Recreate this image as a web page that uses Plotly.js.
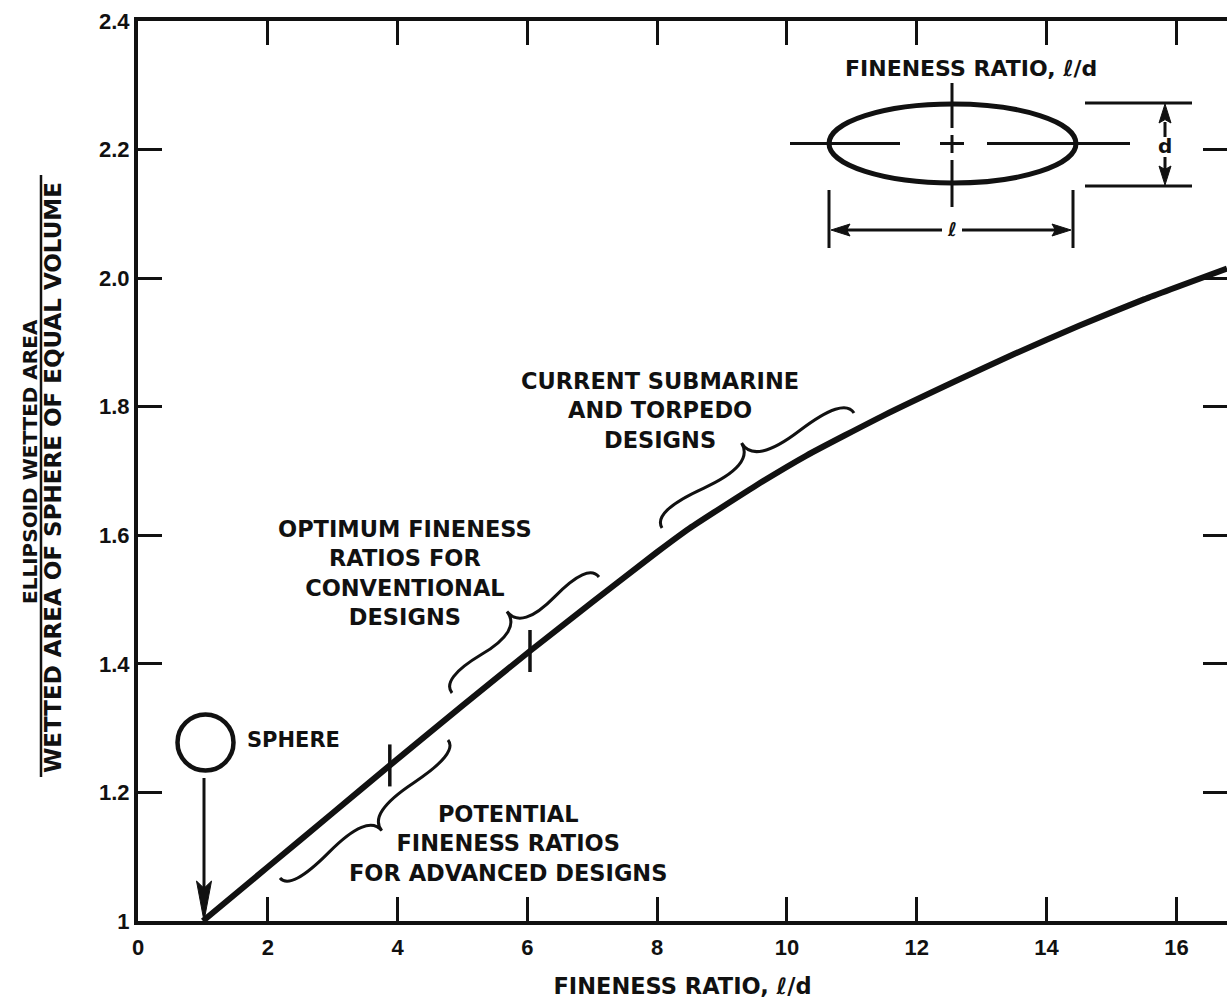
<!DOCTYPE html>
<html>
<head>
<meta charset="utf-8">
<script src="https://cdn.plot.ly/plotly-3.0.1.min.js"></script>
<style>
  html, body { margin: 0; padding: 0; background: #fff; overflow: hidden; }
  #chart { width: 1227px; height: 1001px; }
</style>
</head>
<body>
<div id="chart"></div>
<script>
// Wetted area of a prolate ellipsoid relative to a sphere of equal volume
const fineness  = [1.0, 2.0, 3.0, 3.88, 5.0, 6.04, 7.0, 8.0, 8.5, 9.5, 10.3, 11.5, 12.6, 13.5, 14.5, 15.5, 16.78];
const areaRatio = [1.000, 1.084, 1.168, 1.242, 1.335, 1.420, 1.496, 1.574, 1.611, 1.676, 1.724, 1.787, 1.840, 1.882, 1.926, 1.967, 2.015];

// Design-range boundaries marked on the curve
const markFineness = [3.88, 6.04];
const markRatio    = [1.242, 1.420];

const xTickVals = [0, 2, 4, 6, 8, 10, 12, 14, 16];
const xTickText = ['0', '2', '4', '6', '8', '10', '12', '14', '16'];
const yTickVals = [1, 1.2, 1.4, 1.6, 1.8, 2.0, 2.2, 2.4];
const yTickText = ['1', '1.2', '1.4', '1.6', '1.8', '2.0', '2.2', '2.4'];

// Figure geometry
const W = 1227, H = 1001;
const M = { l: 138, r: 0, t: 21, b: 80 };
const xRange = [0, 16.78], yRange = [1, 2.4];
const pw = W - M.l - M.r, ph = H - M.t - M.b;

// screen pixel -> axis / paper coordinates for the drawn sketch elements
const dx = px => xRange[0] + (px - M.l) / pw * (xRange[1] - xRange[0]);
const dy = py => yRange[0] + (H - M.b - py) / ph * (yRange[1] - yRange[0]);
const rx = px => (px - M.l) / pw;
const ry = py => (H - M.b - py) / ph;

const INK = '#111';
const font = (size, family) => ({ family: family || 'DejaVu Sans', size: size, weight: 'bold', color: INK });

function seg(x0, y0, x1, y1, w) {
  return { type: 'line', xref: 'x', yref: 'y', x0: dx(x0), y0: dy(y0), x1: dx(x1), y1: dy(y1),
           line: { color: INK, width: w || 2.5 } };
}

function polyPath(pts) {
  return 'M' + pts.map(p => dx(p[0]) + ',' + dy(p[1])).join(' L') + ' Z';
}

// filled, slightly notched arrowhead; dir points toward the tip
function arrowHead(tip, dir, len, half) {
  const [tx, ty] = tip, [ux, uy] = dir;
  const nx = -uy, ny = ux;
  const bx = tx - ux * len, by = ty - uy * len;
  const pts = [
    [tx, ty],
    [bx + nx * half, by + ny * half],
    [tx - ux * len * 0.82, ty - uy * len * 0.82],
    [bx - nx * half, by - ny * half]
  ];
  return { type: 'path', xref: 'x', yref: 'y', path: polyPath(pts),
           fillcolor: INK, line: { color: INK, width: 1 } };
}

// curly brace between two points; w > 0 puts the cusp on the left of p0->p1
function brace(p0, p1, w, q) {
  const vx = p1[0] - p0[0], vy = p1[1] - p0[1], L = Math.hypot(vx, vy);
  const ux = vx / L, uy = vy / L, nx = uy, ny = -ux;
  const pt = (s, t) => [p0[0] + ux * s + nx * t, p0[1] + uy * s + ny * t];
  const f = p => dx(p[0]) + ',' + dy(p[1]);
  const path =
    'M' + f(pt(0, 0)) +
    ' Q' + f(pt(0, q * w)) + ' ' + f(pt(0.25 * L, (1 - q) * w)) +
    ' Q' + f(pt(0.5 * L, (2 - 3 * q) * w)) + ' ' + f(pt(0.5 * L, w)) +
    ' Q' + f(pt(0.5 * L, (2 - 3 * q) * w)) + ' ' + f(pt(0.75 * L, (1 - q) * w)) +
    ' Q' + f(pt(L, q * w)) + ' ' + f(pt(L, 0));
  return { type: 'path', xref: 'x', yref: 'y', path: path, line: { color: INK, width: 3 } };
}

const shapes = [
  // inset: ellipse with its centre lines
  { type: 'circle', xref: 'x', yref: 'y', x0: dx(829), x1: dx(1076), y0: dy(183), y1: dy(104),
    line: { color: INK, width: 5 } },
  seg(790, 143.5, 900, 143.5, 3), seg(940, 143.5, 964, 143.5, 3), seg(987, 143.5, 1130, 143.5, 3),
  seg(952, 83, 952, 128, 3), seg(952, 135, 952, 153, 3), seg(952, 160, 952, 207, 3),
  // diameter dimension
  seg(1085, 103, 1192, 103, 3), seg(1085, 186, 1192, 186, 3),
  seg(1165, 122, 1165, 137, 3), seg(1165, 157, 1165, 170, 3),
  arrowHead([1165, 104], [0, -1], 19, 6),
  arrowHead([1165, 185], [0, 1], 19, 6),
  // length dimension
  seg(829, 190, 829, 248, 3), seg(1073, 190, 1073, 248, 3),
  seg(845, 230, 942, 230, 3), seg(962, 230, 1058, 230, 3),
  arrowHead([831, 230], [-1, 0], 19, 6),
  arrowHead([1071, 230], [1, 0], 19, 6),
  // sphere and its pointer to l/d = 1
  { type: 'circle', xref: 'x', yref: 'y', x0: dx(177.5), x1: dx(233.5), y0: dy(770.5), y1: dy(714.5),
    line: { color: INK, width: 4.5 } },
  seg(204, 778, 204, 890, 3),
  arrowHead([204, 921], [0, 1], 40, 7.5),
  // range braces
  brace([280, 878], [448, 740], -28, 0.6),
  brace([452, 693], [599, 577], 30, 0.6),
  brace([662, 528], [854, 413], 32, 0.6),
  // fraction bar of the y-axis title
  { type: 'line', xref: 'paper', yref: 'paper', x0: rx(41), x1: rx(41), y0: ry(175), y1: ry(777),
    line: { color: INK, width: 2.5 } }
];

const annotations = [
  { xref: 'paper', yref: 'paper', x: rx(30), y: ry(462), text: 'ELLIPSOID WETTED AREA', textangle: -90,
    showarrow: false, xanchor: 'center', yanchor: 'middle', font: font(20) },
  { xref: 'paper', yref: 'paper', x: rx(53), y: ry(478), text: 'WETTED AREA OF SPHERE OF EQUAL VOLUME', textangle: -90,
    showarrow: false, xanchor: 'center', yanchor: 'middle', font: font(23) },
  { xref: 'x', yref: 'y', x: dx(971), y: dy(68), text: 'FINENESS RATIO, ℓ/d', showarrow: false, font: font(22) },
  { xref: 'x', yref: 'y', x: dx(1165), y: dy(146), text: 'd', showarrow: false, font: font(20) },
  { xref: 'x', yref: 'y', x: dx(952), y: dy(229), text: 'ℓ', showarrow: false, font: font(19) },
  { xref: 'x', yref: 'y', x: dx(245), y: dy(740), text: 'SPHERE', showarrow: false, xanchor: 'left', font: font(21) },
  { xref: 'x', yref: 'y', x: dx(660), y: dy(410), text: 'CURRENT SUBMARINE<br>AND TORPEDO<br>DESIGNS',
    showarrow: false, font: font(22.5) },
  { xref: 'x', yref: 'y', x: dx(405), y: dy(573), text: 'OPTIMUM FINENESS<br>RATIOS FOR<br>CONVENTIONAL<br>DESIGNS',
    showarrow: false, font: font(22.5) },
  { xref: 'x', yref: 'y', x: dx(508), y: dy(843), text: 'POTENTIAL<br>FINENESS RATIOS<br>FOR ADVANCED DESIGNS',
    showarrow: false, font: font(22.5) }
];

const traces = [
  { x: fineness, y: areaRatio, type: 'scatter', mode: 'lines', line: { color: INK, width: 6, shape: 'spline', smoothing: 0.5 },
    hoverinfo: 'skip', showlegend: false },
  { x: markFineness, y: markRatio, type: 'scatter', mode: 'markers',
    marker: { symbol: 'line-ns', size: 30, line: { color: INK, width: 3.5 } }, hoverinfo: 'skip', showlegend: false }
];

const tickFont = font(22, 'Liberation Sans');

const layout = {
  width: W, height: H,
  margin: M,
  paper_bgcolor: '#fff', plot_bgcolor: '#fff',
  showlegend: false,
  xaxis: {
    range: xRange, showgrid: false, zeroline: false,
    showline: true, linewidth: 4, linecolor: INK, mirror: 'ticks',
    ticks: 'inside', ticklen: 24, tickwidth: 3, tickcolor: INK, ticklabelstandoff: 4,
    tickmode: 'array', tickvals: xTickVals, ticktext: xTickText, tickfont: tickFont,
    title: { text: 'FINENESS RATIO, ℓ/d', font: font(22.5), standoff: 20 }
  },
  yaxis: {
    range: yRange, showgrid: false, zeroline: false,
    showline: true, linewidth: 4, linecolor: INK, mirror: 'ticks',
    ticks: 'inside', ticklen: 24, tickwidth: 3, tickcolor: INK,
    tickmode: 'array', tickvals: yTickVals, ticktext: yTickText, tickfont: tickFont
  },
  shapes: shapes,
  annotations: annotations
};

Plotly.newPlot('chart', traces, layout, { displayModeBar: false, staticPlot: true });
</script>
</body>
</html>
